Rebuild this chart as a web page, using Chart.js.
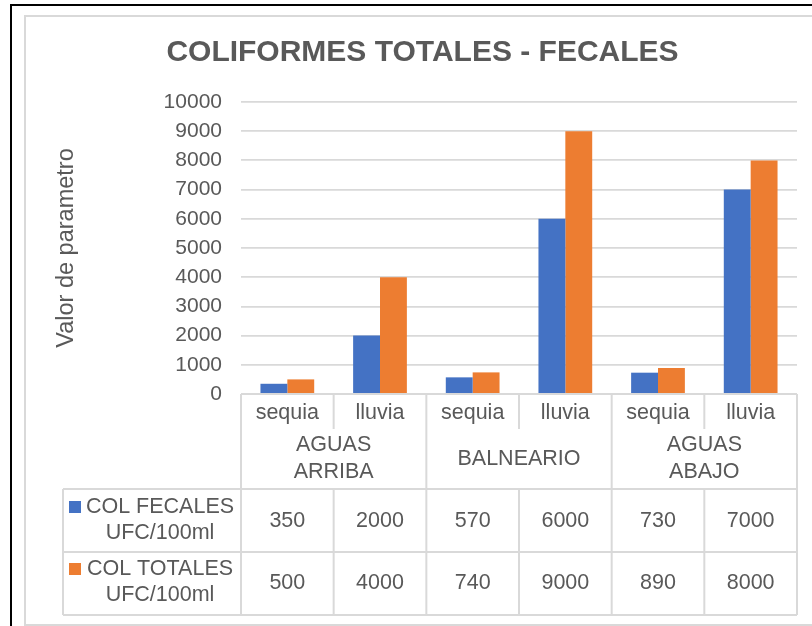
<!DOCTYPE html>
<html>
<head>
<meta charset="utf-8">
<title>Coliformes totales - fecales</title>
<script src="https://cdn.jsdelivr.net/npm/chart.js@4.4.0/dist/chart.umd.min.js"></script>
<style>
  body { margin: 0; background: #fff; }
  #wrap { position: relative; width: 812px; height: 626px; overflow: hidden; }
  .frame { position: absolute; left: 10px; top: 4px; width: 900px; height: 700px; border: 2px solid #000; }
  .inner { position: absolute; left: 24px; top: 15px; width: 900px; height: 607px; border: 2px solid #d9d9d9; }
  canvas { position: absolute; left: 0; top: 0; }
</style>
</head>
<body>
<div id="wrap">
  <div class="frame"></div>
  <div class="inner"></div>
  <canvas id="myChart" width="812" height="626"></canvas>
</div>
<script>
// Chart data
const categories = ["sequia", "lluvia", "sequia", "lluvia", "sequia", "lluvia"];
const groups = [["AGUAS", "ARRIBA"], ["BALNEARIO"], ["AGUAS", "ABAJO"]];
const colFecales = [350, 2000, 570, 6000, 730, 7000];
const colTotales = [500, 4000, 740, 9000, 890, 8000];
const seriesLabels = [["COL FECALES", "UFC/100ml"], ["COL TOTALES", "UFC/100ml"]];
const yMin = 0;
const yMax = 10000;
const yStep = 1000;

const blue = "#4472c4";
const orange = "#ed7d31";
const textColor = "#595959";
const lineColor = "#d9d9d9";
const fontFamily = "'Liberation Sans', Arial, sans-serif";

// Draws the data table under the plot (Excel style)
const dataTablePlugin = {
  id: "dataTable",
  afterDraw(chart) {
    const ctx = chart.ctx;
    const xScale = chart.scales.x;
    const area = chart.chartArea;
    const n = categories.length;
    const w = (area.right - area.left) / n;
    const edges = [];
    for (let i = 0; i <= n; i++) edges.push(area.left + i * w);

    const top = area.bottom;
    const rowA = top + 35;
    const rowB = top + 95;
    const row1 = top + 158;
    const row2 = top + 221;
    const legendLeft = 63;

    function line(x1, y1, x2, y2) {
      ctx.beginPath();
      ctx.moveTo(x1, y1);
      ctx.lineTo(x2, y2);
      ctx.stroke();
    }

    ctx.save();
    ctx.strokeStyle = lineColor;
    ctx.lineWidth = 2;
    line(area.left, top, area.right, top);
    line(legendLeft, rowB, area.right, rowB);
    line(legendLeft, row1, area.right, row1);
    line(legendLeft, row2, area.right, row2);
    for (let i = 0; i <= n; i++) {
      if (i % 2 === 0) {
        line(edges[i], top, edges[i], row2);
      } else {
        line(edges[i], top, edges[i], rowA);
        line(edges[i], rowB, edges[i], row2);
      }
    }
    line(legendLeft, rowB, legendLeft, row2);

    ctx.fillStyle = textColor;
    ctx.font = "21.5px " + fontFamily;
    ctx.textAlign = "center";
    ctx.textBaseline = "middle";

    // category labels
    categories.forEach((c, i) => {
      ctx.fillText(c, xScale.getPixelForValue(i), top + 19);
    });

    // group labels
    groups.forEach((g, j) => {
      const cx = (edges[j * 2] + edges[j * 2 + 2]) / 2;
      const mid = top + 65;
      const lh = 27;
      g.forEach((t, k) => {
        ctx.fillText(t, cx, mid + (k - (g.length - 1) / 2) * lh);
      });
    });

    // values
    const rows = [colFecales, colTotales];
    const rowMids = [top + 127, top + 189];
    rows.forEach((vals, r) => {
      vals.forEach((v, i) => {
        ctx.fillText(String(v), xScale.getPixelForValue(i), rowMids[r]);
      });
    });

    // legend keys + series names
    const colors = [blue, orange];
    seriesLabels.forEach((lab, r) => {
      const mid = rowMids[r];
      ctx.fillStyle = colors[r];
      ctx.fillRect(69, mid - 20, 12, 12);
      ctx.fillStyle = textColor;
      ctx.fillText(lab[0], 160, mid - 14);
      ctx.fillText(lab[1], 160, mid + 12);
    });
    ctx.restore();
  }
};

const ctx = document.getElementById("myChart").getContext("2d");
const myChart = new Chart(ctx, {
  type: "bar",
  data: {
    labels: categories,
    datasets: [
      {
        label: seriesLabels[0].join(" "),
        data: colFecales,
        backgroundColor: blue,
        borderWidth: 0,
      },
      {
        label: seriesLabels[1].join(" "),
        data: colTotales,
        backgroundColor: orange,
        borderWidth: 0,
      },
    ],
  },
  options: {
    responsive: false,
    devicePixelRatio: 1,
    animation: false,
    layout: {
      padding: { left: 48, right: 15, top: 20, bottom: 232 },
    },
    datasets: {
      bar: { barPercentage: 1, categoryPercentage: 0.58 },
    },
    plugins: {
      legend: { display: false },
      tooltip: { enabled: false },
      title: {
        display: true,
        text: "COLIFORMES TOTALES - FECALES",
        color: textColor,
        font: { family: fontFamily, size: 30, weight: "bold" },
        padding: { top: 14.5, bottom: 31.5 },
      },
    },
    scales: {
      x: {
        display: false,
      },
      y: {
        min: yMin,
        max: yMax,
        ticks: {
          stepSize: yStep,
          color: textColor,
          padding: 19,
          font: { family: fontFamily, size: 21 },
          callback: (value) => String(value),
        },
        grid: {
          color: lineColor,
          lineWidth: 1.8,
          drawTicks: false,
        },
        border: { display: false },
        title: {
          display: true,
          text: "Valor de parametro",
          color: textColor,
          font: { family: fontFamily, size: 23.5 },
          padding: { top: 4, bottom: 0 },
        },
        afterFit(scale) {
          scale.width = 193;
        },
      },
    },
  },
  plugins: [dataTablePlugin],
});
</script>
</body>
</html>
